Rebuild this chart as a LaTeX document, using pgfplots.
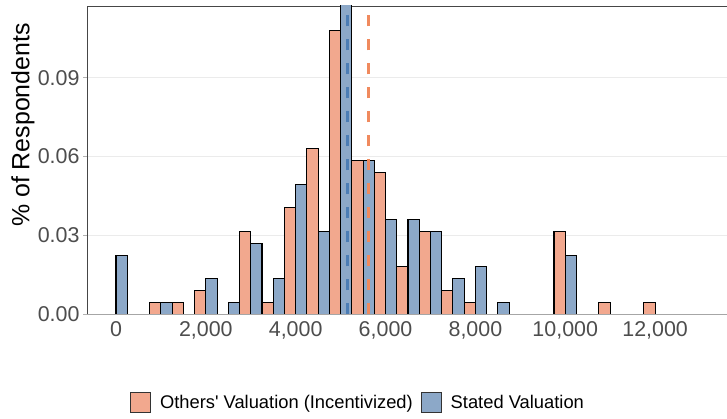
\documentclass[border=0pt]{standalone}
\usepackage{fontspec}
\setmainfont{Liberation Sans}
\usepackage{pgfplots}
\usepackage{pgfplotstable}
\pgfplotsset{compat=1.18}
\definecolor{orfill}{HTML}{F2A88E}
\definecolor{blfill}{HTML}{8CA8C8}
\definecolor{ordash}{HTML}{F08A5E}
\definecolor{bldash}{HTML}{4C7DB5}
\definecolor{tickgray}{HTML}{4D4D4D}
\definecolor{gridgray}{HTML}{EBEBEB}

% Others' Valuation (Incentivized): share of respondents per 500 bin
\pgfplotstableread{
x y
1000 0.0045045
1500 0.0045045
2000 0.009009
3000 0.031532
3500 0.0045045
4000 0.040541
4500 0.063063
5000 0.108108
5500 0.058559
6000 0.054054
6500 0.018018
7000 0.031532
7500 0.009009
8000 0.0045045
10000 0.031532
11000 0.0045045
12000 0.0045045
}\others
% Stated Valuation
\pgfplotstableread{
x y
0 0.022523
1000 0.0045045
2000 0.013514
2500 0.0045045
3000 0.027027
3500 0.013514
4000 0.04955
4500 0.031532
5000 0.126126
5500 0.058559
6000 0.036036
6500 0.036036
7000 0.031532
7500 0.013514
8000 0.018018
8500 0.0045045
10000 0.022523
}\stated

\begin{document}
\begin{tikzpicture}
\path[use as bounding box] (0,0) rectangle (727bp,419bp);
\begin{axis}[
  at={(87bp,104.7bp)}, anchor=south west,
  scale only axis, width=642bp, height=308.3bp,
  xmin=-645, xmax=13645, ymin=0, ymax=0.1173,
  scaled x ticks=false, scaled y ticks=false,
  axis line style={draw=gray!55!black, line width=0.9bp},
  xtick={0,2000,4000,6000,8000,10000,12000},
  xticklabels={0,{2,000},{4,000},{6,000},{8,000},{10,000},{12,000}},
  ytick={0,0.03,0.06,0.09},
  yticklabels={0.00,0.03,0.06,0.09},
  ymajorgrids, grid style={gridgray, line width=1.1bp},
  tick align=outside, major tick length=4bp,
  xtick style={draw=none},
  ytick style={draw=gray!60, line width=0.9bp},
  ytick pos=left,
  ticklabel style={font=\fontsize{21.5}{25}\selectfont, text=tickgray},
  ylabel={\% of Respondents},
  ylabel style={font=\fontsize{25}{30}\selectfont, at={(axis description cs:-0.0997,0.614)}, anchor=center},
  legend style={at={(axis description cs:0.4206,-0.286)}, anchor=center,
    draw=none, fill=none, legend columns=-1,
    font=\fontsize{18.4}{22}\selectfont,
    nodes={inner sep=0pt},
    /tikz/every even column/.append style={column sep=8bp},
    /tikz/every odd column/.append style={column sep=9bp}},
  mylegend/.style={legend image code/.code={\draw[##1, draw=black!80, line width=0.9bp] (0bp,-10bp) rectangle (20bp,10bp);}},
]
\addplot[ybar, bar width=250, bar shift=-125, fill=orfill, draw=black, line width=1.1bp, mylegend] table[x=x,y=y]{\others};
\addlegendentry{Others\textquotesingle{} Valuation (Incentivized)}
\addplot[ybar, bar width=250, bar shift=125, fill=blfill, draw=black, line width=1.1bp, mylegend] table[x=x,y=y]{\stated};
\addlegendentry{Stated Valuation}
\addplot[draw=bldash, line width=3bp, dash pattern=on 11bp off 13bp, forget plot] coordinates {(5155,0) (5155,0.2)};
\addplot[draw=ordash, line width=3bp, dash pattern=on 11bp off 13bp, forget plot] coordinates {(5610,0) (5610,0.2)};
\draw[gray!70, line width=1.3bp] (rel axis cs:0,0) -- (rel axis cs:1,0);
\end{axis}
\end{tikzpicture}
\end{document}
